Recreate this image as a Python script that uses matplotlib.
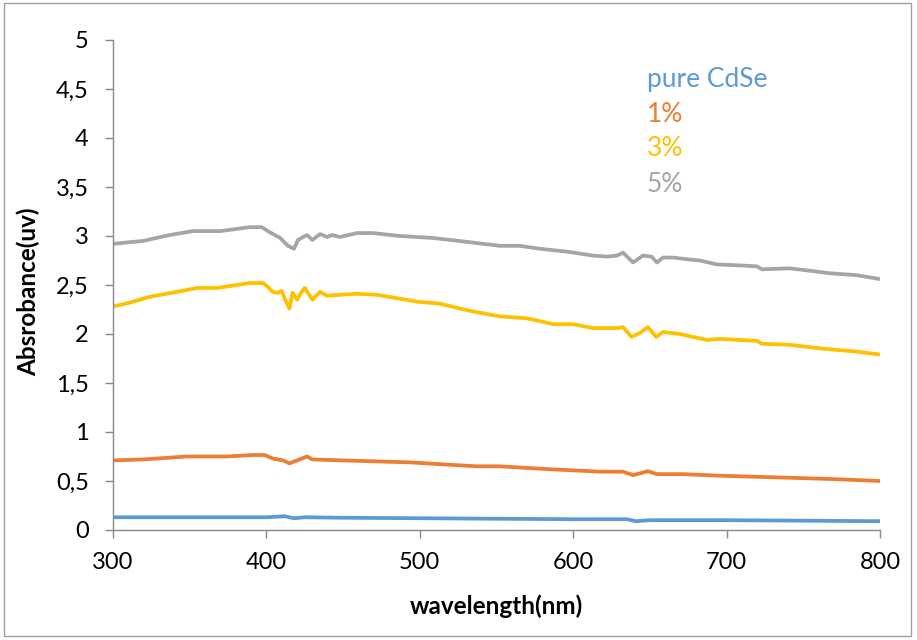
import matplotlib
matplotlib.use("Agg")
import matplotlib.pyplot as plt
from matplotlib.patches import Rectangle

plt.rcParams["font.family"] = ["Lato", "DejaVu Sans"]

# ── data ─────────────────────────────────────────────────────────────────────
blue_x = [300, 350, 400, 412, 418, 425, 450, 500, 550, 600, 635, 641, 650, 700, 750, 800]
blue_y = [0.13, 0.13, 0.13, 0.14, 0.12, 0.13, 0.125, 0.12, 0.115, 0.11, 0.11, 0.09, 0.10, 0.10, 0.095, 0.09]

orange_x = [300, 319.6, 348, 374, 391, 399, 404, 411, 415, 420, 426.5, 430, 450, 472, 493.6,
            515, 537, 552, 585, 617.5, 632.5, 639, 648.8, 654.6, 671.6, 693.7, 726, 769, 800]
orange_y = [0.71, 0.72, 0.75, 0.75, 0.765, 0.765, 0.73, 0.71, 0.68, 0.71, 0.75, 0.72, 0.71, 0.70, 0.69,
            0.67, 0.65, 0.65, 0.62, 0.595, 0.595, 0.56, 0.60, 0.57, 0.57, 0.555, 0.54, 0.52, 0.50]

yellow_x = [300, 311, 324, 341.7, 354.8, 367.8, 380.8, 389, 397.8, 401, 404, 407.5, 410, 412, 415,
            417, 420, 423, 425, 430, 435, 439.5, 448, 459, 472, 487, 498, 513, 526, 534.7, 552,
            570, 587, 600, 613, 628.5, 632.5, 638, 643.5, 648.7, 654, 658.5, 669.6, 678, 687,
            695.7, 719.8, 723, 741, 762.8, 785, 800]
yellow_y = [2.28, 2.32, 2.38, 2.43, 2.47, 2.47, 2.50, 2.52, 2.52, 2.48, 2.43, 2.42, 2.44, 2.36, 2.26,
            2.42, 2.35, 2.43, 2.47, 2.35, 2.43, 2.39, 2.40, 2.41, 2.40, 2.36, 2.33, 2.31, 2.26, 2.23, 2.18,
            2.16, 2.10, 2.10, 2.06, 2.06, 2.07, 1.97, 2.01, 2.07, 1.97, 2.02, 2.00, 1.97, 1.94,
            1.95, 1.93, 1.90, 1.89, 1.85, 1.82, 1.79]

gray_x = [300, 319.6, 337, 352, 370, 389, 397, 402, 409, 414, 418, 420.6, 424, 426.5, 430, 435,
          439.5, 443, 448, 459, 469.5, 487, 508.6, 530.7, 552, 565, 578, 596, 613, 622, 628.5,
          632.5, 639, 645.5, 651, 654.6, 658.5, 665, 676, 682.6, 693.7, 708.7, 719.8, 723, 741,
          752, 767, 785, 800]
gray_y = [2.92, 2.95, 3.01, 3.05, 3.05, 3.09, 3.09, 3.04, 2.98, 2.90, 2.87, 2.96, 2.99, 3.01, 2.96, 3.02,
          2.99, 3.01, 2.99, 3.03, 3.03, 3.00, 2.98, 2.94, 2.90, 2.90, 2.87, 2.84, 2.80, 2.79, 2.80,
          2.83, 2.73, 2.80, 2.79, 2.73, 2.78, 2.78, 2.76, 2.75, 2.71, 2.70, 2.69, 2.66, 2.67,
          2.65, 2.62, 2.60, 2.56]

series_labels = ["pure CdSe", "1%", "3%", "5%"]
x_ticks = [300, 400, 500, 600, 700, 800]
y_ticks = [0, 0.5, 1, 1.5, 2, 2.5, 3, 3.5, 4, 4.5, 5]
y_ticklabels = ["0", "0,5", "1", "1,5", "2", "2,5", "3", "3,5", "4", "4,5", "5"]

COLORS = ["#5B9BD5", "#ED7D31", "#FFC000", "#A5A5A5"]
AXC = "#898989"

# ── figure ───────────────────────────────────────────────────────────────────
fig = plt.figure(figsize=(9.17, 6.40), dpi=100)
ax = fig.add_axes([113 / 917, 110 / 640, 767 / 917, 490 / 640])

for xs, ys, c in zip([blue_x, orange_x, yellow_x, gray_x],
                     [blue_y, orange_y, yellow_y, gray_y], COLORS):
    ax.plot(xs, ys, color=c, lw=2.7, solid_capstyle="butt")

ax.set_xlim(300, 800)
ax.set_ylim(0, 5)
ax.set_xticks(x_ticks)
ax.set_yticks(y_ticks)
ax.set_yticklabels(y_ticklabels)

for s in ["top", "right"]:
    ax.spines[s].set_visible(False)
for s in ["left", "bottom"]:
    ax.spines[s].set_color(AXC)
    ax.spines[s].set_linewidth(1.0)
ax.tick_params(axis="both", direction="out", length=5.5, width=1.0, color=AXC,
               labelsize=17, labelcolor="black")
ax.tick_params(axis="y", pad=12)
ax.tick_params(axis="x", pad=10)

ax.set_xlabel("wavelength(nm)", fontsize=17.5, fontweight="bold")
ax.set_ylabel("Absrobance(uv)", fontsize=17.5, fontweight="bold")
ax.xaxis.set_label_coords(0.5, -0.132)
ax.yaxis.set_label_coords(-0.095, 0.486)

# coloured series names (Excel-style legend)
label_y = [79, 114, 149, 184]   # pixel rows of the text centres
for name, c, py in zip(series_labels, COLORS, label_y):
    fig.text(647 / 917, 1 - py / 640, name, color=c, fontsize=19, ha="left", va="center")

# outer chart border
fig.patches.append(Rectangle((4 / 917, 4 / 640), 907 / 917, 633 / 640,
                             transform=fig.transFigure, fill=False,
                             edgecolor="#A0A0A0", lw=1.0))

fig.savefig("out.png", dpi=100)
